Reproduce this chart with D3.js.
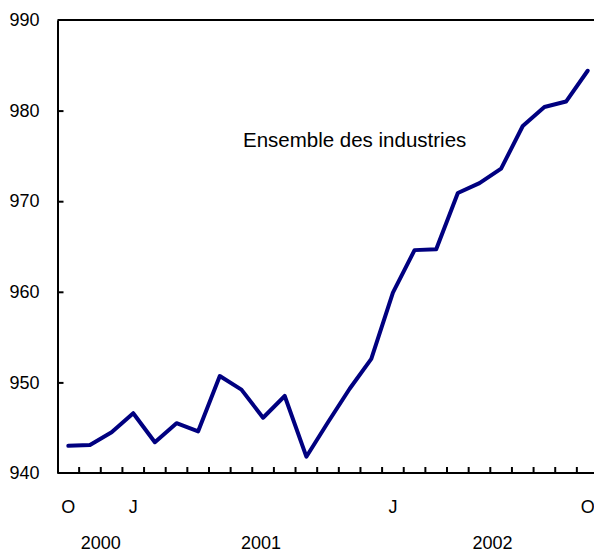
<!DOCTYPE html>
<html>
<head>
<meta charset="utf-8">
<script src="https://cdn.jsdelivr.net/npm/d3@7"></script>
<style>
  body { margin: 0; background: #fff; }
  svg { display: block; font-family: "Liberation Sans", Arial, sans-serif; }
</style>
</head>
<body>
<svg id="chart" width="594" height="553"></svg>
<script>
// monthly values, Oct 2000 .. Oct 2002
var months = ["O","N","D","J","F","M","A","M","J","J","A","S","O","N","D",
              "J","F","M","A","M","J","J","A","S","O"];
var values = [943.0, 943.1, 944.5, 946.6, 943.4, 945.5, 944.6, 950.7, 949.2, 946.1,
              948.5, 941.8, 945.6, 949.3, 952.6, 959.9, 964.6, 964.7, 970.9, 972.0,
              973.6, 978.3, 980.4, 981.0, 984.4];
var shownMonths = [0, 3, 15, 24];
var yearLabels = ["2000", "2001", "2002"];
var yearPos = [1.5, 8.9, 19.6];   // position along the month index
var yTicks = [940, 950, 960, 970, 980, 990];
var seriesLabel = "Ensemble des industries";

var svg = d3.select("#chart");
var margin = {top: 20, left: 57.5};
var height = 473 - margin.top;
var bandW = 21.64;

var x = d3.scaleBand()
    .domain(d3.range(values.length))
    .range([0, bandW * values.length])
    .padding(0);

var y = d3.scaleLinear()
    .domain([940, 990])
    .range([height, 0]);

var g = svg.append("g").attr("transform", "translate(" + margin.left + "," + margin.top + ")");

// frame: top line
g.append("line")
    .attr("x1", 0).attr("x2", 600)
    .attr("y1", 0).attr("y2", 0)
    .attr("stroke", "#000").attr("stroke-width", 2);

// y axis (ticks point inward)
var yAxis = g.append("g")
    .call(d3.axisLeft(y).tickValues(yTicks).tickSize(-6).tickPadding(18).tickSizeOuter(0));
yAxis.select(".domain").attr("stroke", "#000").attr("stroke-width", 2);
yAxis.selectAll(".tick line").attr("stroke-width", 2);
yAxis.selectAll(".tick").filter(function(d) { return d === 940 || d === 990; }).select("line").remove();
yAxis.selectAll("text")
    .attr("font-size", "18px")
    .attr("font-family", "Liberation Sans, Arial, sans-serif")
    .attr("fill", "#000");

// x axis: month boundaries as ticks
var boundaries = d3.range(1, values.length);
var xb = g.append("g").attr("transform", "translate(0," + height + ")");
xb.append("line")
    .attr("x1", 0).attr("x2", 600)
    .attr("stroke", "#000").attr("stroke-width", 2);
xb.selectAll(".mt")
    .data(boundaries)
    .enter().append("line")
    .attr("class", "mt")
    .attr("x1", function(d) { return x(d); })
    .attr("x2", function(d) { return x(d); })
    .attr("y1", 0).attr("y2", -6)
    .attr("stroke", "#000").attr("stroke-width", 2);

xb.selectAll(".ml")
    .data(shownMonths)
    .enter().append("text")
    .attr("class", "ml")
    .attr("x", function(d) { return x(d) + x.bandwidth() / 2; })
    .attr("y", 40)
    .attr("text-anchor", "middle")
    .attr("font-size", "18px")
    .text(function(d) { return months[d]; });

xb.selectAll(".yl")
    .data(yearLabels)
    .enter().append("text")
    .attr("class", "yl")
    .attr("x", function(d, i) { return x(0) + x.bandwidth() / 2 + yearPos[i] * bandW; })
    .attr("y", 76)
    .attr("text-anchor", "middle")
    .attr("font-size", "18px")
    .text(function(d) { return d; });

// line
var line = d3.line()
    .x(function(d, i) { return x(i) + x.bandwidth() / 2; })
    .y(function(d) { return y(d); });

g.append("path")
    .datum(values)
    .attr("fill", "none")
    .attr("stroke", "#000080")
    .attr("stroke-width", 4)
    .attr("stroke-linejoin", "round")
    .attr("stroke-linecap", "round")
    .attr("d", line);

g.append("text")
    .attr("x", x(0) + 8.57 * bandW)
    .attr("y", y(976.0))
    .attr("text-anchor", "start")
    .attr("font-size", "20.5px")
    .text(seriesLabel);
</script>
</body>
</html>
